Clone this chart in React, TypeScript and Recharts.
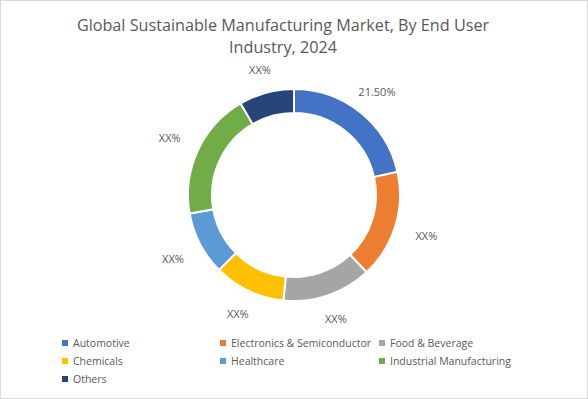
import { PieChart, Pie, Cell, Legend } from "recharts";

const industries = [
  "Automotive",
  "Electronics & Semiconductor",
  "Food & Beverage",
  "Chemicals",
  "Healthcare",
  "Industrial Manufacturing",
  "Others",
];
const shares = [21.5, 16.5, 13.6, 10.9, 9.7, 19.4, 8.4];
const shareLabels = ["21.50%", "XX%", "XX%", "XX%", "XX%", "XX%", "XX%"];
const colors = ["#4472C4", "#ED7D31", "#A5A5A5", "#FFC000", "#5B9BD5", "#70AD47", "#264478"];

const data = industries.map((name, i) => ({ name, value: shares[i], label: shareLabels[i] }));

const RAD = Math.PI / 180;
const FONT = "'Open Sans', sans-serif";

const renderLabel = (props: any) => {
  const { cx, cy, midAngle, outerRadius, index } = props;
  const sin = Math.sin(-midAngle * RAD);
  // labels sit a bit closer above/below the ring than at its sides
  const r = outerRadius + 36 - 12 * Math.abs(sin);
  const x = cx + r * Math.cos(-midAngle * RAD);
  const y = cy + r * sin;
  return (
    <text x={x} y={y} fill="#595959" fontSize={11} fontFamily={FONT} textAnchor="middle" dominantBaseline="central">
      {data[index].label}
    </text>
  );
};

// legend keeps the data order (recharts sorts by name otherwise)
const renderLegend = () => (
  <div
    style={{
      display: "grid",
      gridTemplateColumns: "158px 159px 180px",
      rowGap: 3,
      fontFamily: FONT,
      fontSize: 10.5,
      color: "#595959",
    }}
  >
    {data.map((d, i) => (
      <div key={d.name} style={{ display: "flex", alignItems: "center", height: 15 }}>
        <span style={{ width: 6, height: 6, background: colors[i], marginRight: 5, display: "inline-block" }} />
        {d.name}
      </div>
    ))}
  </div>
);

export default function App() {
  return (
    <div
      style={{
        position: "fixed",
        top: 0,
        left: 0,
        width: 586,
        height: 397,
        border: "1px solid #D9D9D9",
        background: "#fff",
        overflow: "hidden",
      }}
    >
      <div
        style={{
          position: "absolute",
          top: 13,
          left: -23,
          width: 610,
          textAlign: "center",
          fontFamily: FONT,
          fontSize: 16.2,
          lineHeight: "22px",
          color: "#595959",
        }}
      >
        Global Sustainable Manufacturing Market, By End User
        <br />
        Industry, 2024
      </div>
      <PieChart width={586} height={397} margin={{ top: 0, right: 0, bottom: 0, left: 0 }}>
        <Pie
          data={data}
          dataKey="value"
          nameKey="name"
          cx={293}
          cy={194}
          innerRadius={82}
          outerRadius={106}
          startAngle={90}
          endAngle={-270}
          stroke="#fff"
          strokeWidth={2}
          label={renderLabel}
          labelLine={false}
          isAnimationActive={false}
        >
          {data.map((_, i) => (
            <Cell key={i} fill={colors[i]} />
          ))}
        </Pie>
        <Legend
          content={renderLegend}
          wrapperStyle={{ position: "absolute", top: 334, left: 61, width: 500 }}
        />
      </PieChart>
    </div>
  );
}
